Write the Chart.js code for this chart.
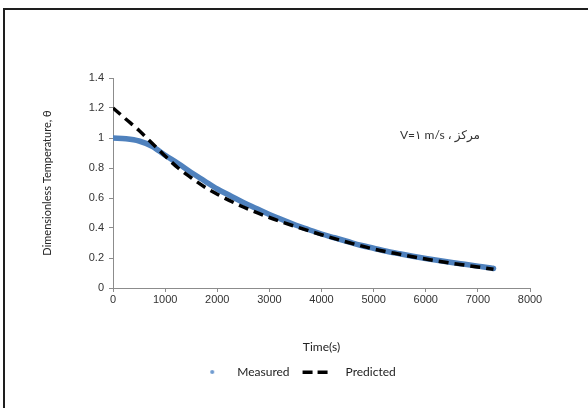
<!DOCTYPE html>
<html>
<head>
<meta charset="utf-8">
<script src="https://cdn.jsdelivr.net/npm/chart.js@4.4.0/dist/chart.umd.min.js"></script>
<style>
  html, body { margin: 0; padding: 0; background: #fff; overflow: hidden; }
  #wrap { position: relative; width: 588px; height: 408px; }
  #frame { position: absolute; left: 3px; top: 8px; width: 620px; height: 440px;
           border-left: 2px solid #1e1e1e; border-top: 2px solid #1e1e1e; }
  canvas { position: absolute; left: 0; top: 0; }
</style>
</head>
<body>
<div id="wrap">
  <div id="frame"></div>
  <canvas id="chart" width="588" height="408"></canvas>
</div>
<script>
// Measured (blue points)
const measuredTime = [0, 250, 500, 750, 1000, 1250, 1500, 1750, 2000, 2250, 2500, 2750, 3000, 3250, 3500,
                      3750, 4000, 4250, 4500, 4750, 5000, 5250, 5500, 5750, 6000, 6250, 6500, 6750, 7000, 7250, 7300];
const measuredTheta = [1.00, 0.995, 0.98, 0.945, 0.885, 0.83, 0.77, 0.715, 0.66, 0.615, 0.57, 0.53, 0.49, 0.455, 0.42,
                       0.39, 0.36, 0.335, 0.31, 0.285, 0.265, 0.245, 0.228, 0.212, 0.197, 0.183, 0.17, 0.158, 0.146, 0.134, 0.13];

// Predicted (black dashed)
const predictedTime = [0, 250, 500, 750, 1000, 1250, 1500, 1750, 2000, 2500, 3000, 3500, 4000, 4500, 5000,
                       5500, 6000, 6500, 7000, 7300];
const predictedTheta = [1.2, 1.125, 1.05, 0.965, 0.88, 0.8, 0.735, 0.675, 0.625, 0.54, 0.47, 0.41, 0.355, 0.305, 0.26,
                        0.225, 0.193, 0.165, 0.14, 0.125];

const xTicks = [0, 1000, 2000, 3000, 4000, 5000, 6000, 7000, 8000];
const yTicks = [0, 0.2, 0.4, 0.6, 0.8, 1, 1.2, 1.4];
const seriesNames = ["Measured", "Predicted"];
const noteText = "V=\u0661 m/s \u060C \u0645\u0631\u06A9\u0632";

// small legend glyphs (drawn as canvas point styles)
function legendGlyph(kind) {
    const c = document.createElement("canvas");
    c.width = 40; c.height = 10;
    const g = c.getContext("2d");
    if (kind === "dot") {
        g.fillStyle = "#6f9bd0";
        g.beginPath(); g.arc(21, 5, 2, 0, Math.PI * 2); g.fill();
    } else {
        g.fillStyle = "#000";
        g.fillRect(3, 3.5, 10, 3.5);
        g.fillRect(18, 3.5, 10, 3.5);
    }
    return c;
}

const notePlugin = {
    id: "note",
    afterLayout(chart) {
        // nudge legend to where it sits in the original
        const lg = chart.legend;
        lg.left += 8; lg.right += 8;
        lg.top += 2; lg.bottom += 2;
    },
    afterDraw(chart) {
        const ctx = chart.ctx;
        ctx.save();
        ctx.font = '12px Lato, "DejaVu Sans", sans-serif';
        ctx.fillStyle = "#333";
        ctx.textAlign = "center";
        ctx.textBaseline = "middle";
        ctx.direction = "ltr";
        ctx.fillText(noteText, 440, 135);
        ctx.restore();
    }
};

const axisGray = "#8c8c8c";
const tickFont = { family: '"Liberation Sans", Arial, sans-serif', size: 11 };
const labelFont = { family: 'Lato, "Open Sans", sans-serif', size: 12 };

new Chart(document.getElementById("chart"), {
    type: "line",
    data: {
        datasets: [{
            label: seriesNames[0],
            data: measuredTime.map((t, i) => ({ x: t, y: measuredTheta[i] })),
            borderColor: "#4F81BD",
            backgroundColor: "#4F81BD",
            borderWidth: 5.5,
            pointRadius: 0,
            pointStyle: legendGlyph("dot"),
            cubicInterpolationMode: "monotone",
            borderCapStyle: "round",
            order: 2
        }, {
            label: seriesNames[1],
            data: predictedTime.map((t, i) => ({ x: t, y: predictedTheta[i] })),
            borderColor: "#000",
            backgroundColor: "#000",
            borderWidth: 3.5,
            borderDash: [10, 6],
            pointRadius: 0,
            pointStyle: legendGlyph("dash"),
            cubicInterpolationMode: "monotone",
            order: 1
        }]
    },
    options: {
        responsive: false,
        animation: false,
        layout: { padding: { left: 41, top: 78, right: 58, bottom: 22 } },
        plugins: {
            tooltip: { enabled: false },
            legend: {
                position: "bottom",
                labels: {
                    usePointStyle: true,
                    pointStyleWidth: 40,
                    padding: 10,
                    color: "#222",
                    font: labelFont,
                    sort: (a, b) => a.datasetIndex - b.datasetIndex
                }
            }
        },
        scales: {
            x: {
                type: "linear",
                min: 0, max: 8000,
                afterBuildTicks: s => { s.ticks = xTicks.map(v => ({ value: v })); },
                afterFit: s => { s.height = 66; },
                ticks: { color: "#333", font: tickFont, padding: 1, maxRotation: 0, callback: v => String(v) },
                grid: { drawOnChartArea: false, drawTicks: true, tickLength: 4, color: axisGray },
                border: { color: axisGray, width: 1 },
                title: { display: true, text: "Time(s)", color: "#222", padding: 0, font: labelFont }
            },
            y: {
                min: 0, max: 1.4,
                afterBuildTicks: s => { s.ticks = yTicks.map(v => ({ value: v })); },
                afterFit: s => { s.width = 72; },
                ticks: { color: "#333", font: tickFont, padding: 5, callback: v => String(+v.toFixed(1)) },
                grid: { drawOnChartArea: false, drawTicks: true, tickLength: 4, color: axisGray },
                border: { color: axisGray, width: 1 },
                title: { display: true, text: "Dimensionless Temperature, \u03B8", color: "#222", padding: 0,
                         font: { family: 'Lato, "Open Sans", sans-serif', size: 11 } }
            }
        }
    },
    plugins: [notePlugin]
});
</script>
</body>
</html>
